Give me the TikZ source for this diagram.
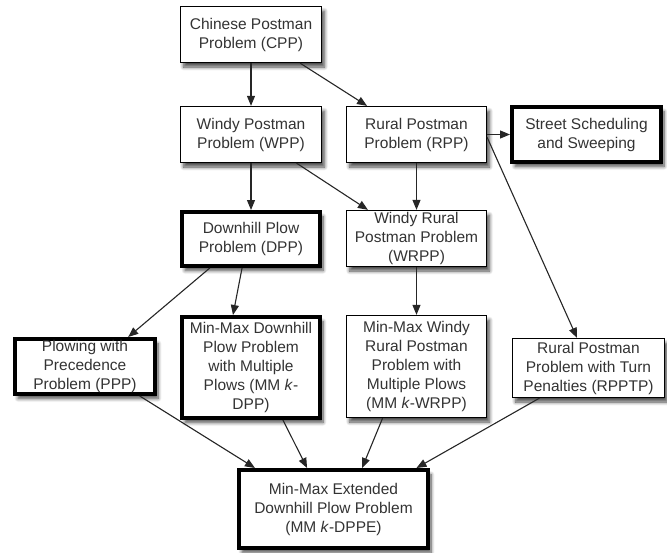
\documentclass[tikz,border=0pt]{standalone}
\usepackage{fontspec}
\setmainfont{Liberation Sans}
\usetikzlibrary{arrows.meta,shadows.blur,calc}
\begin{document}
\begin{tikzpicture}[x=1pt,y=-1pt,
  probbox/.style={draw=black, fill=white, line width=1.3pt, align=center,
    inner sep=0pt, text=black!80, font=\fontsize{15.5}{19}\selectfont,
    blur shadow={shadow xshift=3pt, shadow yshift=-4.5pt,
      shadow blur radius=3.5pt, shadow blur steps=8, shadow opacity=70}},
  keybox/.style={probbox, line width=4pt},
  link/.style={line width=1.1pt, draw=black!85,
    -{Triangle[length=10pt,width=8pt]}}
]
\useasboundingbox (0,0) rectangle (667,552);

% problem boxes
\node[probbox, minimum width=141pt, minimum height=56pt] (cpp) at (251,34.5)
  {Chinese Postman\\Problem (CPP)};
\node[probbox, minimum width=141pt, minimum height=56pt] (wpp) at (251,134.5)
  {Windy Postman\\Problem (WPP)};
\node[probbox, minimum width=140pt, minimum height=56pt] (rpp) at (416.5,134.5)
  {Rural Postman\\Problem (RPP)};
\node[keybox, minimum width=149pt, minimum height=55pt] (street) at (586.5,134.5)
  {Street Scheduling\\and Sweeping};
\node[keybox, minimum width=138pt, minimum height=54pt] (dpp) at (251,239)
  {Downhill Plow\\Problem (DPP)};
\node[probbox, minimum width=140pt, minimum height=56pt] (wrpp) at (416.5,238.5)
  {Windy Rural\\Postman Problem\\(WRPP)};
\node[keybox, minimum width=140pt, minimum height=55pt] (ppp) at (85,366.5)
  {Plowing with\\Precedence\\Problem (PPP)};
\node[keybox, minimum width=138pt, minimum height=101pt] (mmkdpp) at (251,367.5)
  {Min-Max Downhill\\Plow Problem\\with Multiple\\Plows (MM \textit{k}-\\DPP)};
\node[probbox, minimum width=140pt, minimum height=102pt] (mmkwrpp) at (416.5,366.5)
  {Min-Max Windy\\Rural Postman\\Problem with\\Multiple Plows\\(MM \textit{k}-WRPP)};
\node[probbox, minimum width=152pt, minimum height=59pt] (rpptp) at (588.5,368)
  {Rural Postman\\Problem with Turn\\Penalties (RPPTP)};
\node[keybox, minimum width=189pt, minimum height=78pt] (dppe) at (333.5,509)
  {Min-Max Extended\\Downhill Plow Problem\\(MM \textit{k}-DPPE)};

% relations between the problems
\draw[link] (cpp.south) -- (wpp.north);
\draw[link] ($(cpp.south west)!0.845!(cpp.south east)$) -- ($(rpp.north west)!0.15!(rpp.north east)$);
\draw[link] (wpp.south) -- (dpp.north);
\draw[link] ($(wpp.south west)!0.82!(wpp.south east)$) -- ($(wrpp.north west)!0.156!(wrpp.north east)$);
\draw[link] (rpp.south) -- (wrpp.north);
\draw[link] (rpp.east) -- (street.west);
\draw[link] ($(rpp.north east)!0.55!(rpp.south east)$) -- ($(rpptp.north west)!0.425!(rpptp.north east)$);
\draw[link] ($(dpp.south west)!0.21!(dpp.south east)$) -- ($(ppp.north west)!0.8!(ppp.north east)$);
\draw[link] ($(dpp.south west)!0.437!(dpp.south east)$) -- ($(mmkdpp.north west)!0.373!(mmkdpp.north east)$);
\draw[link] (wrpp.south) -- (mmkwrpp.north);
\draw[link] ($(ppp.south west)!0.88!(ppp.south east)$) -- ($(dppe.north west)!0.093!(dppe.north east)$);
\draw[link] ($(mmkdpp.south west)!0.725!(mmkdpp.south east)$) -- ($(dppe.north west)!0.363!(dppe.north east)$);
\draw[link] ($(mmkwrpp.south west)!0.26!(mmkwrpp.south east)$) -- ($(dppe.north west)!0.648!(dppe.north east)$);
\draw[link] ($(rpptp.south west)!0.18!(rpptp.south east)$) -- ($(dppe.north west)!0.93!(dppe.north east)$);
\end{tikzpicture}
\end{document}
